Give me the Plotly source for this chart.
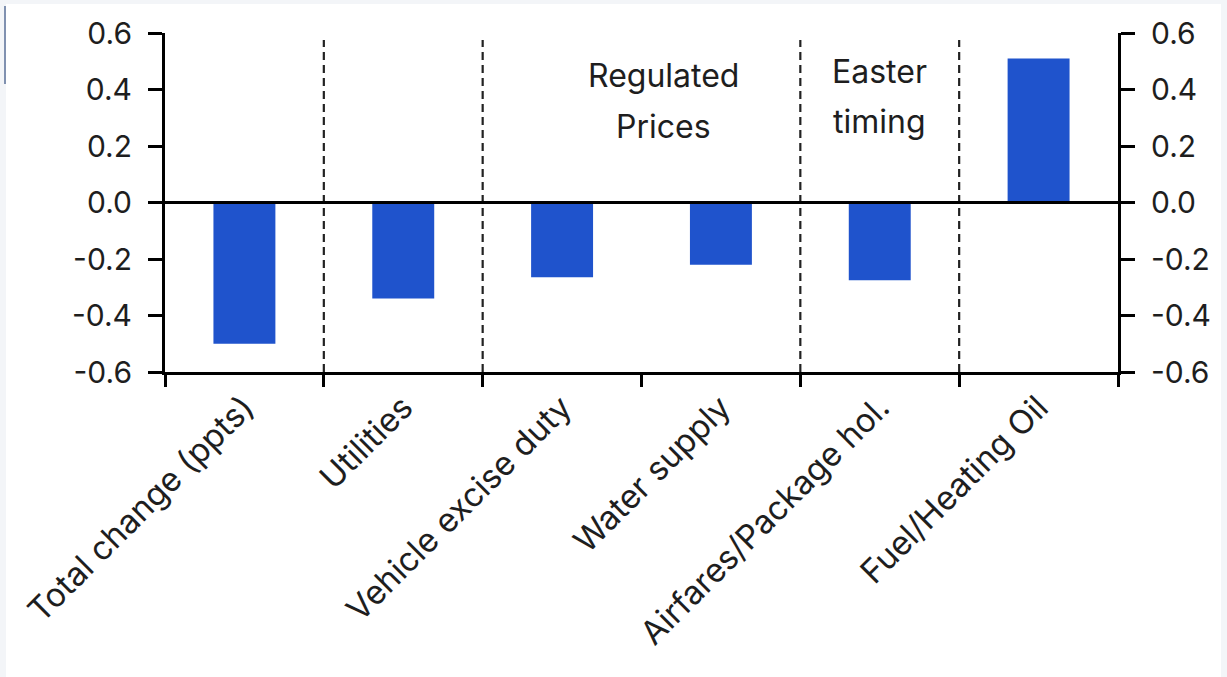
import plotly.graph_objects as go

categories = ["Total change (ppts)", "Utilities", "Vehicle excise duty",
              "Water supply", "Airfares/Package hol.", "Fuel/Heating Oil"]
values = [-0.50, -0.34, -0.265, -0.22, -0.275, 0.51]
y_ticks = [0.6, 0.4, 0.2, 0.0, -0.2, -0.4, -0.6]
y_ticktext = ["0.6", "0.4", "0.2", "0.0", "-0.2", "-0.4", "-0.6"]
separators = [0.5, 1.5, 3.5, 4.5]
group_lines = [("Regulated", 2.64, 0.45), ("Prices", 2.64, 0.27),
               ("Easter", 4.0, 0.465), ("timing", 4.0, 0.285)]

W, H = 1227, 677
ML, MR, MT, MB = 165, 109, 33, 305
PW, PH = W - ML - MR, H - MT - MB

def px_x(px):
    return (px - ML) / PW

def px_y(py):
    return (H - MB - py) / PH

FONT = "Inter"
TXT = "#1e1e1e"
BLUE = "#1f53cc"

fig = go.Figure()
fig.add_trace(go.Bar(x=categories, y=values, marker=dict(color=BLUE, line_width=0),
                     width=0.39, hoverinfo="skip"))
fig.add_trace(go.Scatter(x=categories, y=values, yaxis="y2", mode="markers",
                         marker=dict(opacity=0), hoverinfo="skip", showlegend=False))

# background panel
fig.add_shape(type="rect", xref="paper", yref="paper",
              x0=px_x(6), x1=px_x(1221), y0=px_y(680), y1=px_y(4),
              fillcolor="white", line_width=0, layer="below")
fig.add_shape(type="line", xref="paper", yref="paper",
              x0=px_x(5), x1=px_x(5), y0=px_y(84), y1=px_y(6),
              line=dict(color="#5a6f99", width=1.5))

for s in separators:
    fig.add_shape(type="line", xref="x", yref="y", x0=s, x1=s, y0=-0.6, y1=0.575,
                  line=dict(color="#222", width=2.2, dash="8px,5px"), layer="below")

fig.add_shape(type="line", xref="paper", yref="y", x0=0, x1=1, y0=0, y1=0,
              line=dict(color="black", width=3))

for text, xpos, ypos in group_lines:
    fig.add_annotation(x=xpos, y=ypos, xref="x", yref="y", text=text, showarrow=False,
                       font=dict(family=FONT, size=32, color=TXT), align="center",
                       yanchor="middle")

y_font = dict(family=FONT, size=30, color=TXT)
x_font = dict(family=FONT, size=33, color=TXT)
fig.update_layout(
    width=W, height=H,
    margin=dict(l=ML, r=MR, t=MT, b=MB),
    paper_bgcolor="#f3f5f8",
    plot_bgcolor="white",
    showlegend=False,
    xaxis=dict(tickangle=-45, tickfont=x_font, showline=True, linecolor="black",
               linewidth=3, ticks="outside", tickson="boundaries", ticklen=12,
               tickwidth=3, tickcolor="black", showgrid=False, zeroline=False,
               range=[-0.5, 5.5]),
    yaxis=dict(range=[-0.6, 0.6], tickvals=y_ticks, ticktext=y_ticktext,
               tickfont=y_font, showline=True, linecolor="black", linewidth=3,
               ticks="outside", ticklen=14, tickwidth=3, tickcolor="black",
               showgrid=False, zeroline=False, ticklabelstandoff=10),
    yaxis2=dict(range=[-0.6, 0.6], tickvals=y_ticks, ticktext=y_ticktext,
                tickfont=y_font, showline=True, linecolor="black", linewidth=3,
                ticks="outside", ticklen=14, tickwidth=3, tickcolor="black",
                showgrid=False, zeroline=False, overlaying="y", side="right",
                ticklabelstandoff=10),
)

fig.write_html("out.html", config={"displayModeBar": False},
               post_script="document.body.style.margin='0px';document.body.style.overflow='hidden';")
